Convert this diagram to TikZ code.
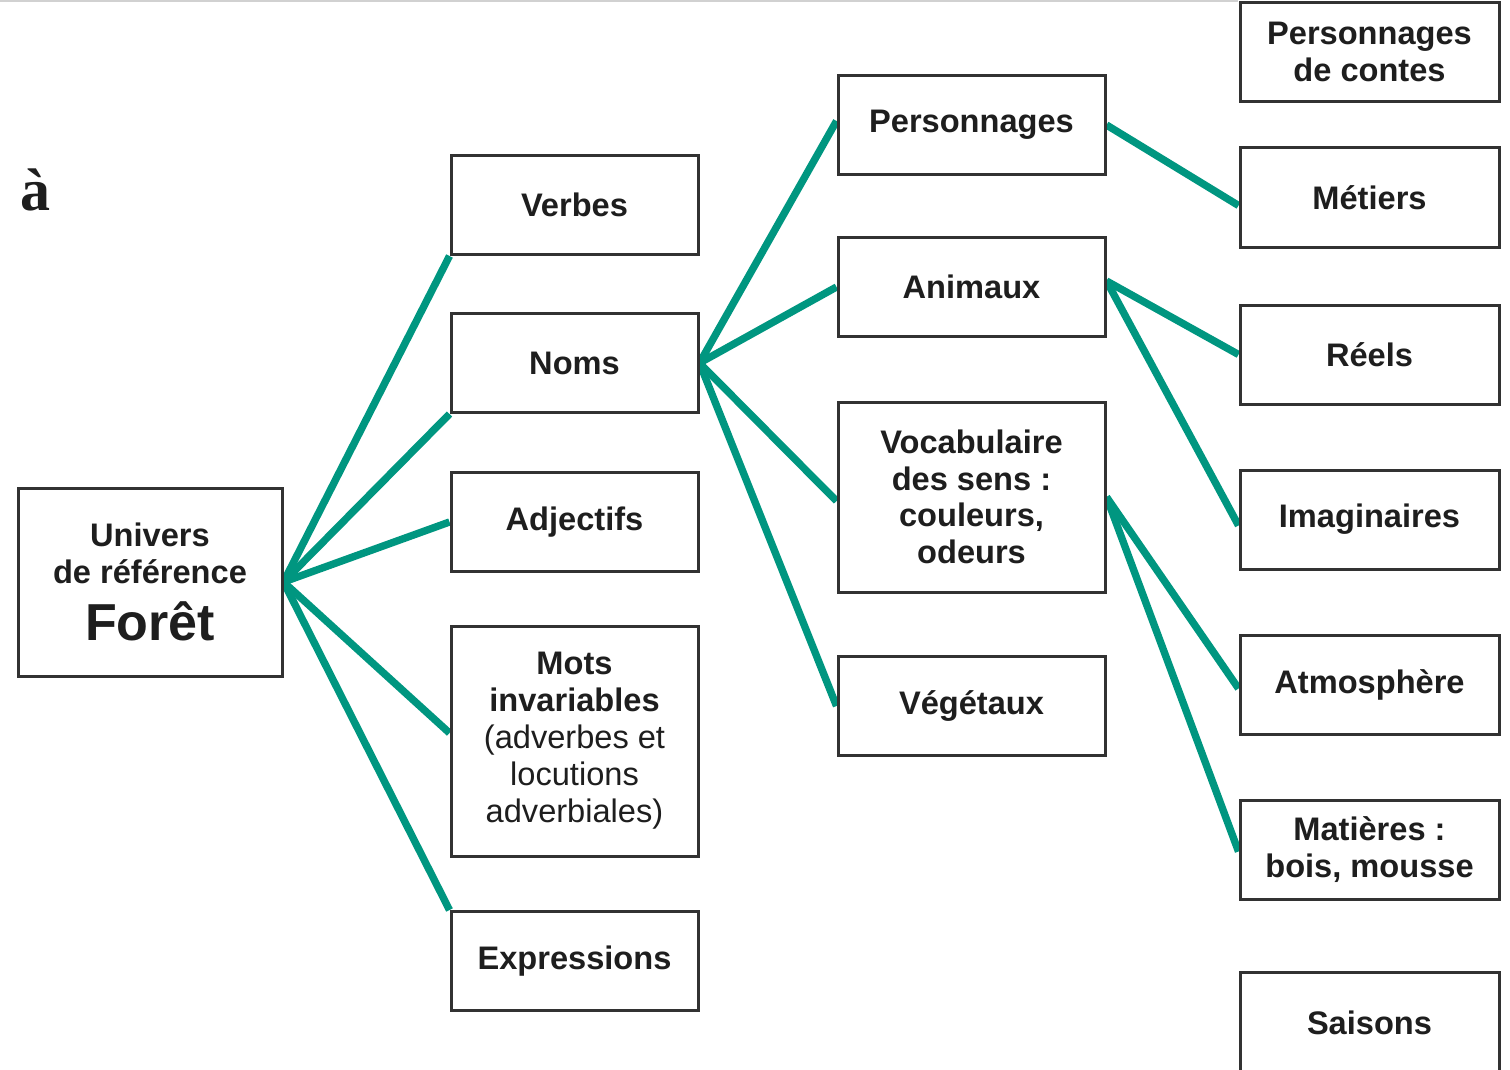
\documentclass[tikz,border=0pt]{standalone}
\usepackage{fontspec}
\setmainfont{Liberation Sans}
\newfontfamily\serifbold{Liberation Serif}
\usetikzlibrary{backgrounds}
\definecolor{teal}{RGB}{0,150,128}
\definecolor{boxline}{RGB}{50,50,50}
\definecolor{txt}{RGB}{30,30,30}
\tikzset{
  box/.style={draw=boxline, line width=1.5pt, fill=white, text=txt, align=center,
    font=\fontsize{16.3pt}{18.3pt}\selectfont\bfseries, inner sep=0pt},
  c2/.style={box, minimum width=123.5pt, minimum height=49.5pt},
  c3/.style={box, minimum width=133.5pt, minimum height=49.5pt},
  c4/.style={box, minimum width=129.5pt, minimum height=49.5pt},
  link/.style={draw=teal, line width=3.7pt},
}
\begin{document}
\begin{tikzpicture}[x=0.5pt,y=-0.5pt]
\useasboundingbox (0,0) rectangle (1510,1070);
\draw[black!18, line width=1pt] (0,1) -- (1238,1);
\node[text=txt, font=\serifbold\fontsize{30pt}{32pt}\selectfont\bfseries, inner sep=0pt] (a) at (35,190) {à};
% root
\node[box, minimum width=132pt, minimum height=94pt] (root) at (150,582)
  {Univers\\de référence\\[8pt]{\fontsize{26pt}{28pt}\selectfont Forêt}};
% column 2
\node[c2] (verbes) at (574.5,205) {Verbes};
\node[c2] (noms) at (574.5,363) {Noms};
\node[c2] (adj) at (574.5,522) {Adjectifs};
\node[c2, minimum height=115pt, font=\fontsize{16.3pt}{18.5pt}\selectfont] (mots) at (574.5,741)
  {\bfseries Mots\\\bfseries invariables\\(adverbes et\\locutions\\adverbiales)};
\node[c2] (expr) at (574.5,961) {Expressions};
% column 3
\node[c3] (perso) at (971.5,125) {Personnages};
\node[c3] (anim) at (971.5,287) {Animaux};
\node[c3, minimum height=95pt] (vocab) at (971.5,497) {Vocabulaire\\des sens :\\couleurs,\\odeurs};
\node[c3] (veget) at (971.5,706) {Végétaux};
% column 4
\node[c4] (contes) at (1369.5,52) {Personnages\\de contes};
\node[c4] (metiers) at (1369.5,197.5) {Métiers};
\node[c4] (reels) at (1369.5,354.5) {Réels};
\node[c4] (imag) at (1369.5,519.5) {Imaginaires};
\node[c4] (atmo) at (1369.5,684.5) {Atmosphère};
\node[c4] (mat) at (1369.5,849.5) {Matières :\\bois, mousse};
\node[c4, minimum height=51pt] (saisons) at (1369.5,1023) {Saisons};
\begin{scope}[on background layer]
\draw[link] (root.east) -- (verbes.south west);
\draw[link] (root.east) -- (noms.south west);
\draw[link] (root.east) -- (adj.west);
\draw[link] (root.east) -- ([yshift=4pt]mots.west);
\draw[link] (root.east) -- (expr.north west);
\draw[link] (noms.east) -- ([yshift=2pt]perso.west);
\draw[link] (noms.east) -- (anim.west);
\draw[link] (noms.east) -- ([yshift=-2pt]vocab.west);
\draw[link] (noms.east) -- (veget.west);
\draw[link] (perso.east) -- ([yshift=-4pt]metiers.west);
\draw[link] ([yshift=3pt]anim.east) -- (reels.west);
\draw[link] ([yshift=3pt]anim.east) -- ([yshift=-3pt]imag.west);
\draw[link] (vocab.east) -- ([yshift=-2pt]atmo.west);
\draw[link] (vocab.east) -- ([yshift=-1pt]mat.west);
\end{scope}
\end{tikzpicture}
\end{document}
